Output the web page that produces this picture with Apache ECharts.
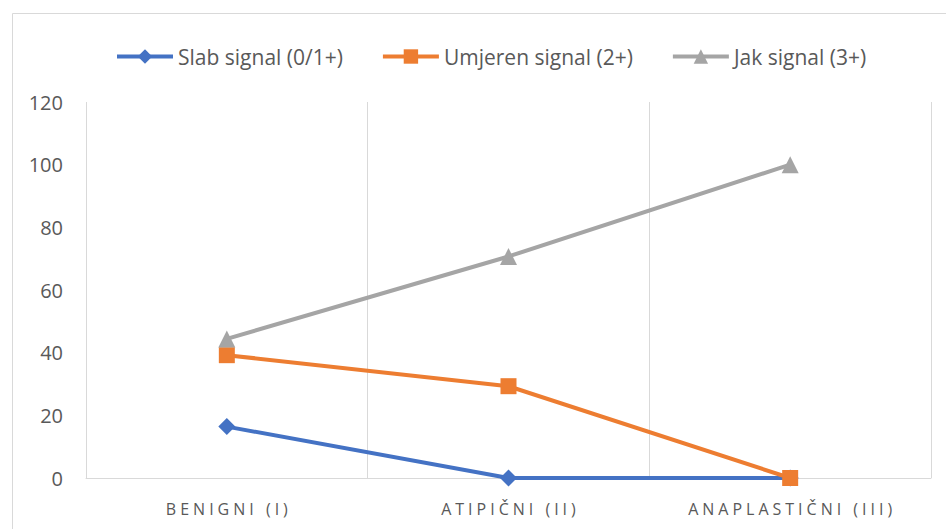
<!DOCTYPE html>
<html>
<head>
<meta charset="utf-8">
<script src="https://cdn.jsdelivr.net/npm/echarts@6/dist/echarts.min.js"></script>
<style>
html,body{margin:0;padding:0;background:#fff;}
#c{width:946px;height:529px;}
</style>
</head>
<body>
<div id="c"></div>
<script>
var categories = ['BENIGNI (I)', 'ATIPIČNI (II)', 'ANAPLASTIČNI (III)'];
var seriesNames = ['Slab signal (0/1+)', 'Umjeren signal (2+)', 'Jak signal (3+)'];
var slab = [16.4, 0, 0];
var umjeren = [39.2, 29.3, 0];
var jak = [44.4, 70.7, 100];
var yTicks = [0, 20, 40, 60, 80, 100, 120];

var chart = echarts.init(document.getElementById('c'), null, {renderer: 'svg'});
var font = '"Open Sans", sans-serif';
var option = {
  animation: false,
  backgroundColor: '#fff',
  graphic: [{
    type: 'rect', left: 10, top: 11, z: -1,
    shape: {width: 960, height: 540},
    style: {fill: 'none', stroke: '#d9d9d9', lineWidth: 1}
  }],
  legend: {
    left: 110, top: 41,
    itemWidth: 56, itemHeight: 18, itemGap: 38,
    lineStyle: {width: 4},
    textStyle: {fontFamily: font, fontSize: 21, color: '#595959'},
    data: seriesNames
  },
  grid: {left: 86, right: 15, top: 102, bottom: 51, containLabel: false},
  xAxis: {
    type: 'category', data: categories, boundaryGap: true,
    axisLine: {lineStyle: {color: '#d9d9d9', width: 1}},
    axisTick: {show: false},
    splitLine: {show: true, lineStyle: {color: '#d9d9d9', width: 1}},
    axisLabel: {fontFamily: font, fontSize: 16, color: '#595959', margin: 23, interval: 0}
  },
  yAxis: {
    type: 'value', min: yTicks[0], max: yTicks[yTicks.length - 1], interval: 20,
    axisLine: {show: false}, axisTick: {show: false},
    splitLine: {show: false},
    axisLabel: {fontFamily: font, fontSize: 20, color: '#595959', margin: 23}
  },
  series: [
    {name: seriesNames[0], type: 'line', data: slab, symbol: 'diamond', symbolSize: 17,
      lineStyle: {width: 4, color: '#4472C4'}, itemStyle: {color: '#4472C4'}},
    {name: seriesNames[1], type: 'line', data: umjeren, symbol: 'rect', symbolSize: 16,
      lineStyle: {width: 4, color: '#ED7D31'}, itemStyle: {color: '#ED7D31'}},
    {name: seriesNames[2], type: 'line', data: jak, symbol: 'triangle', symbolSize: 17,
      lineStyle: {width: 4, color: '#A5A5A5'}, itemStyle: {color: '#A5A5A5'}}
  ]
};
chart.setOption(option);
function spaceLabels() {
  var texts = document.querySelectorAll('#c text');
  texts.forEach(function (t) {
    if (categories.indexOf(t.textContent) >= 0) {
      t.style.letterSpacing = '4px';
      t.setAttribute('dx', '2');
    }
  });
}
spaceLabels();
chart.on('finished', spaceLabels);
</script>
</body>
</html>
